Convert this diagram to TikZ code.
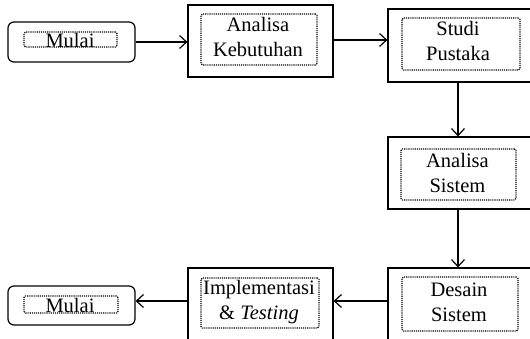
\documentclass[tikz,border=0pt]{standalone}
\usepackage{fontspec}
\setmainfont{Liberation Serif}
\usetikzlibrary{arrows.meta}
\begin{document}
\begin{tikzpicture}[x=1pt,y=-1pt,
  stepbox/.style={draw, line width=1.2pt, inner sep=0pt, minimum width=146pt, minimum height=72pt},
  endbox/.style={draw, line width=1.2pt, rounded corners=6pt, inner sep=0pt, minimum width=127pt, minimum height=40pt},
  dotbox/.style={draw, densely dotted, line width=1.1pt, inner sep=0pt, rounded corners=1.5pt},
  lbl/.style={inner sep=0pt, align=center, font=\fontsize{20.5}{25}\selectfont},
  flow/.style={line width=1.2pt, -{Straight Barb[length=7pt,width=13pt,line width=1.2pt]}}
]
\useasboundingbox (0,0) rectangle (530,339);
\clip (0,0) rectangle (530,339);

% start terminal
\node[endbox] (m1) at (71.5,42) {};
\node[dotbox, minimum width=93pt, minimum height=15pt] (m1i) at (70.5,39.5) {};
\node[lbl] (m1t) at (70,40.5) {Mulai};

% needs analysis
\node[stepbox, minimum width=145pt] (ak) at (260.5,41) {};
\node[dotbox, minimum width=116pt, minimum height=51pt] (aki) at (259,39.5) {};
\node[lbl] (akt) at (258,37) {Analisa\\Kebutuhan};

% literature study
\node[stepbox, minimum height=73pt] (sp) at (461,45.5) {};
\node[dotbox, minimum width=118pt, minimum height=52pt] (spi) at (461,44) {};
\node[lbl] (spt) at (458,41) {Studi\\Pustaka};

% system analysis
\node[stepbox] (as) at (461,173) {};
\node[dotbox, minimum width=115pt, minimum height=51pt] (asi) at (458.5,174.5) {};
\node[lbl] (ast) at (457.5,172.5) {Analisa\\Sistem};

% system design
\node[stepbox] (ds) at (461,304) {};
\node[dotbox, minimum width=116pt, minimum height=54pt] (dsi) at (460,304) {};
\node[lbl] (dst) at (459,302.5) {Desain\\Sistem};

% implementation and testing
\node[stepbox, minimum width=145pt] (im) at (260.5,304) {};
\node[dotbox, minimum width=118pt, minimum height=50pt] (imi) at (260,303) {};
\node[lbl] (imt) at (259,302) {Implementasi\\\& \textit{Testing}};

% end terminal
\node[endbox, minimum height=39pt] (m2) at (71.5,305.5) {};
\node[dotbox, minimum width=94pt, minimum height=17pt] (m2i) at (71,304.5) {};
\node[lbl] (m2t) at (70,305.5) {Mulai};

% flow connectors
\draw[flow] (m1.east) -- (m1.east -| ak.west);
\draw[flow] ([yshift=1pt]ak.east) -- ([yshift=1pt]ak.east -| sp.west);
\draw[flow] ([xshift=-3pt]sp.south) -- ([xshift=-3pt]sp.south |- as.north);
\draw[flow] ([xshift=-3pt]as.south) -- ([xshift=-3pt]as.south |- ds.north);
\draw[flow] ([yshift=3pt]ds.west) -- ([yshift=3pt]ds.west -| im.east);
\draw[flow] ([yshift=3pt]im.west) -- ([yshift=3pt]im.west -| m2.east);
\end{tikzpicture}
\end{document}
